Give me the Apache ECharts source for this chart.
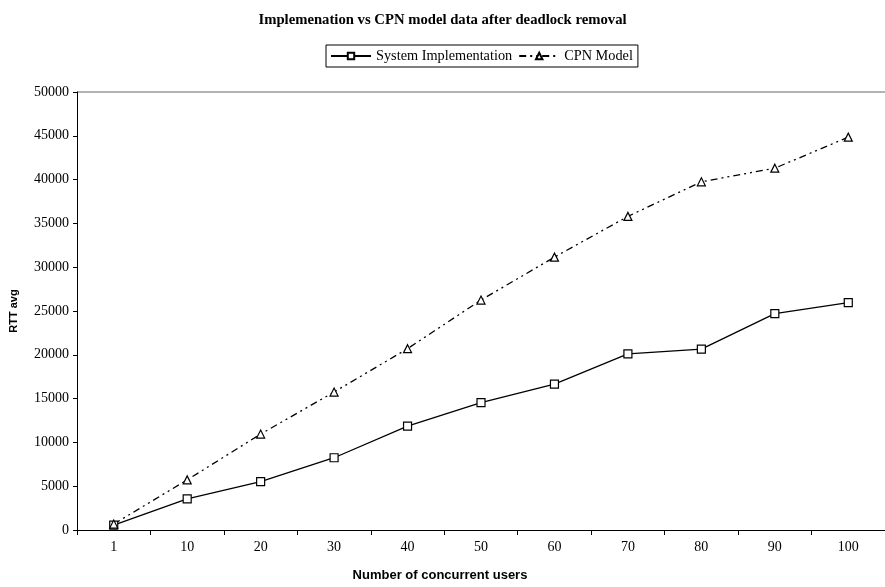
<!DOCTYPE html>
<html>
<head>
<meta charset="utf-8">
<script src="https://cdn.jsdelivr.net/npm/echarts@6/dist/echarts.min.js"></script>
<style>
  html, body { margin: 0; padding: 0; background: #fff; }
  #chart { width: 885px; height: 587px; }
</style>
</head>
<body>
<div id="chart"></div>
<script>
const users = ['1', '10', '20', '30', '40', '50', '60', '70', '80', '90', '100']
const systemImpl = [550, 3550, 5530, 8250, 11850, 14550, 16650, 20100, 20650, 24700, 25950]
const cpnModel = [680, 5720, 10950, 15750, 20700, 26250, 31150, 35800, 39750, 41300, 44850]

const serif = '"Liberation Serif", "Times New Roman", serif'
const sans = '"Liberation Sans", Arial, sans-serif'

const chart = echarts.init(document.getElementById('chart'))

chart.setOption({
  backgroundColor: '#fff',
  animation: false,
  title: {
    text: 'Implemenation vs CPN model data after deadlock removal',
    left: 'center',
    top: 8,
    textStyle: { fontFamily: serif, fontSize: 14.7, fontWeight: 'bold', color: '#000' }
  },
  legend: {
    left: 326,
    top: 45,
    padding: [4, 5, 4, 4],
    itemGap: 6,
    itemWidth: 40,
    itemHeight: 8,
    borderColor: '#000',
    borderWidth: 1,
    borderRadius: 0,
    textStyle: { fontFamily: serif, fontSize: 14.3, color: '#000' },
    data: ['System Implementation', 'CPN Model']
  },
  grid: { left: 77, top: 92, width: 816, height: 440, containLabel: false, show: false },
  xAxis: {
    type: 'category',
    data: users,
    boundaryGap: true,
    name: 'Number of concurrent users',
    nameLocation: 'middle',
    nameGap: 39,
    nameTextStyle: { fontFamily: sans, fontSize: 13, fontWeight: 'bold', color: '#000', padding: [0, 82, 0, 0] },
    axisLine: { lineStyle: { color: '#000', width: 1 } },
    axisTick: { show: true, length: 5, lineStyle: { color: '#000' } },
    axisLabel: { fontFamily: serif, fontSize: 14, color: '#000', margin: 10 },
    splitLine: { show: false }
  },
  yAxis: {
    type: 'value',
    min: 0,
    max: 50000,
    interval: 5000,
    name: 'RTT avg',
    nameLocation: 'middle',
    nameGap: 58,
    nameTextStyle: { fontFamily: sans, fontSize: 11, fontWeight: 'bold', color: '#000' },
    axisLine: { show: true, lineStyle: { color: '#000', width: 1 } },
    axisTick: { show: true, length: 4, lineStyle: { color: '#000' } },
    axisLabel: { fontFamily: serif, fontSize: 14, color: '#000', margin: 8, formatter: v => String(v) },
    splitLine: { show: false }
  },
  graphic: [
    // grey plot-area border along the top
    { type: 'line', shape: { x1: 77, y1: 92, x2: 885, y2: 92 }, style: { stroke: '#999', lineWidth: 1.5 }, silent: true }
  ],
  series: [
    {
      name: 'System Implementation',
      type: 'line',
      data: systemImpl,
      symbol: 'rect',
      symbolSize: 8,
      itemStyle: { color: '#fff', borderColor: '#000', borderWidth: 1.2 },
      lineStyle: { color: '#000', width: 1.3, type: 'solid' }
    },
    {
      name: 'CPN Model',
      type: 'line',
      data: cpnModel,
      symbol: 'triangle',
      symbolSize: 8,
      itemStyle: { color: '#fff', borderColor: '#000', borderWidth: 1.2 },
      lineStyle: { color: '#000', width: 1.3, type: [7, 4, 2, 4, 2, 4] }
    }
  ]
})
</script>
</body>
</html>
